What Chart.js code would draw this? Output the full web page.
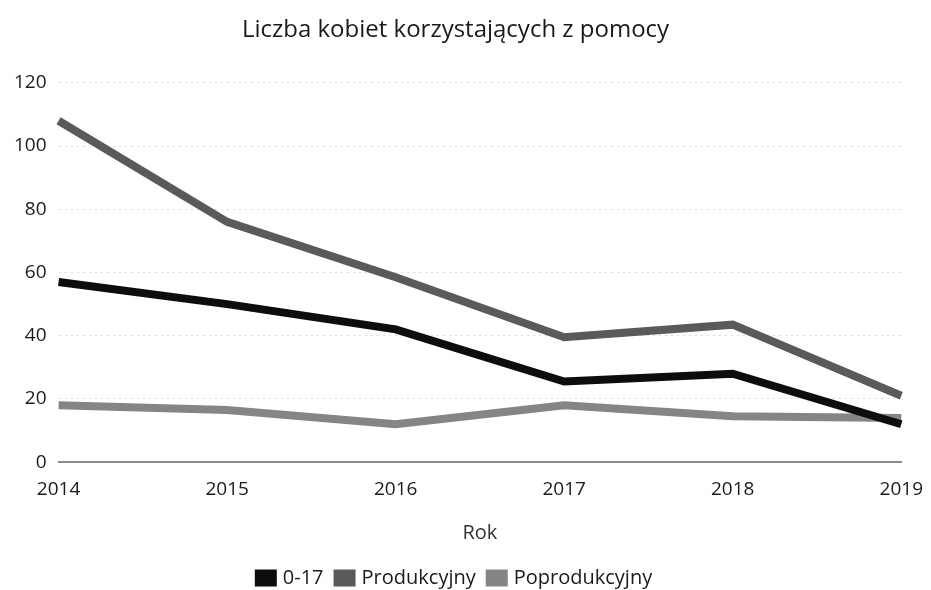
<!DOCTYPE html>
<html>
<head>
<meta charset="utf-8">
<script src="https://cdn.jsdelivr.net/npm/chart.js@4"></script>
<style>
    html, body { margin: 0; padding: 0; background: #fff; }
    #wrap { width: 931px; height: 590px; }
</style>
</head>
<body>
<div id="wrap"><canvas id="chart"></canvas></div>
<script>
const YEARS = ['2014', '2015', '2016', '2017', '2018', '2019'];
const AGE_0_17 = [57, 50, 42, 25.5, 28, 12];
const PRODUKCYJNY = [108, 76, 58.5, 39.5, 43.5, 21];
const POPRODUKCYJNY = [18, 16.5, 12, 18, 14.5, 14];
const Y_TICKS = [0, 20, 40, 60, 80, 100, 120];

const FONT = "'Open Sans', 'Noto Sans', sans-serif";

new Chart(document.getElementById('chart'), {
    type: 'line',
    data: {
        labels: YEARS,
        datasets: [{
                label: '0-17',
                data: AGE_0_17,
                borderColor: '#0d0d0d',
                backgroundColor: '#0d0d0d',
                borderWidth: 8,
                pointRadius: 0,
                tension: 0,
            },
            {
                label: 'Produkcyjny',
                data: PRODUKCYJNY,
                borderColor: '#5a5a5a',
                backgroundColor: '#5a5a5a',
                borderWidth: 8,
                pointRadius: 0,
                tension: 0,
            },
            {
                label: 'Poprodukcyjny',
                data: POPRODUKCYJNY,
                borderColor: '#858585',
                backgroundColor: '#858585',
                borderWidth: 8,
                pointRadius: 0,
                tension: 0,
            }
        ]
    },
    options: {
        responsive: true,
        maintainAspectRatio: false,
        animation: false,
        layout: { padding: { left: 2, right: 22, top: 8, bottom: -8 } },
        plugins: {
            title: {
                display: true,
                text: 'Liczba kobiet korzystających z pomocy',
                color: '#1a1a1a',
                font: { family: FONT, size: 24, weight: 'normal' },
                padding: { top: 8, bottom: 38 }
            },
            legend: {
                position: 'bottom',
                labels: {
                    boxWidth: 14,
                    boxHeight: 9,
                    padding: 14,
                    color: '#1a1a1a',
                    font: { family: FONT, size: 20 }
                }
            },
            tooltip: { enabled: false }
        },
        scales: {
            x: {
                offset: false,
                grid: { display: false },
                border: { color: '#8a8a8a', width: 2 },
                ticks: { color: '#1a1a1a', font: { family: FONT, size: 19 }, maxRotation: 0, padding: 8 },
                title: {
                    display: true,
                    text: 'Rok',
                    color: '#333',
                    font: { family: FONT, size: 20 },
                    padding: { top: 12, bottom: 9 }
                }
            },
            y: {
                min: 0,
                max: 120,
                afterBuildTicks: function(axis) {
                    axis.ticks = Y_TICKS.map(function(v) { return { value: v }; });
                },
                grid: { color: 'rgba(0,0,0,.14)', drawTicks: false, lineWidth: 1 },
                border: { display: false, dash: [2, 4] },
                ticks: { color: '#1a1a1a', font: { family: FONT, size: 19 }, padding: 12 }
            }
        }
    }
});
</script>
</body>
</html>
